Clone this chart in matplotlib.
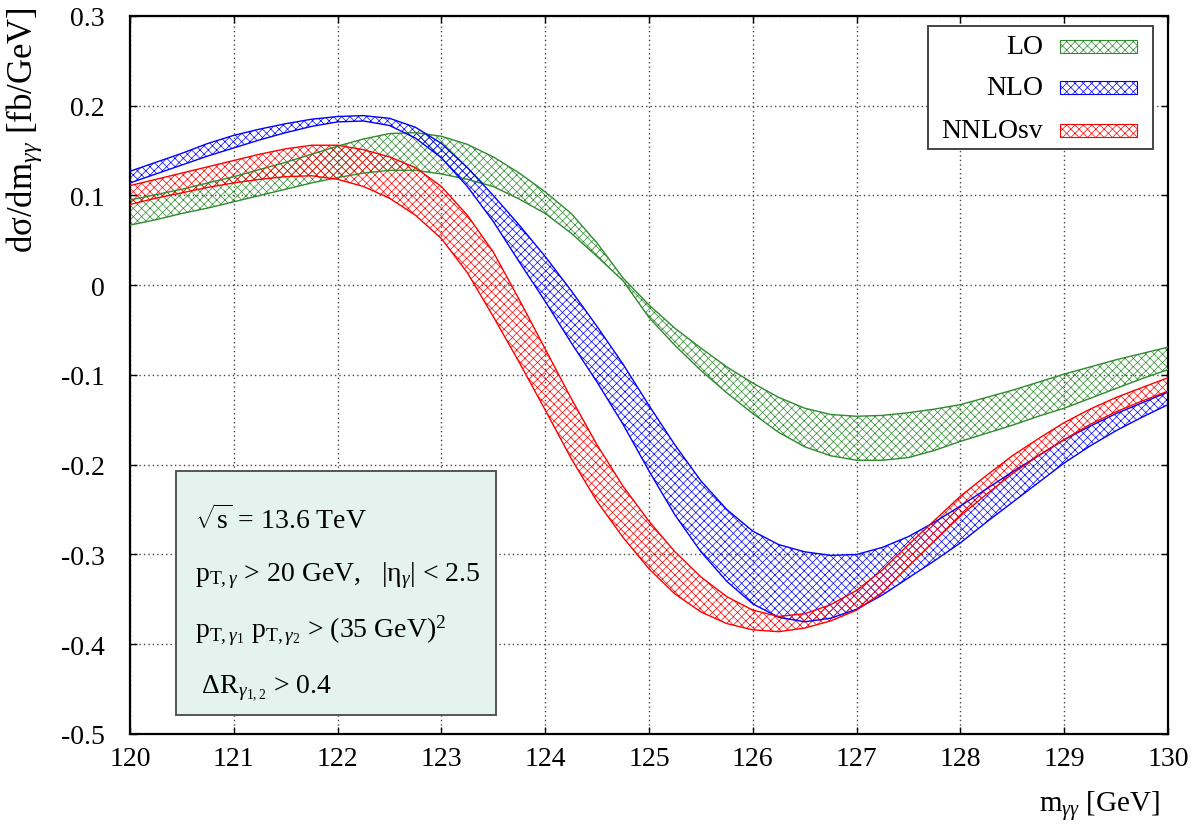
import numpy as np
import matplotlib
matplotlib.use("Agg")
import matplotlib.pyplot as plt
from matplotlib.patches import Rectangle

plt.rcParams['font.family'] = ['Liberation Serif', 'DejaVu Serif']
plt.rcParams['mathtext.fontset'] = 'custom'
plt.rcParams['mathtext.rm'] = 'Liberation Serif'
plt.rcParams['mathtext.it'] = 'Liberation Serif:italic'
plt.rcParams['mathtext.bf'] = 'Liberation Serif:bold'
plt.rcParams['hatch.linewidth'] = 0.5

# m_yy [GeV]
m_gg = [120.00, 120.25, 120.50, 120.75, 121.00, 121.25, 121.50, 121.75,
        122.00, 122.25, 122.50, 122.75, 123.00, 123.25, 123.50, 123.75,
        124.00, 124.25, 124.50, 124.75, 125.00, 125.25, 125.50, 125.75,
        126.00, 126.25, 126.50, 126.75, 127.00, 127.25, 127.50, 127.75,
        128.00, 128.25, 128.50, 128.75, 129.00, 129.25, 129.50, 129.75,
        130.00]

# LO band
lo_a = [0.095, 0.101, 0.107, 0.114, 0.121, 0.129, 0.137, 0.146,
        0.155, 0.163, 0.169, 0.170, 0.166, 0.157, 0.143, 0.125,
        0.104, 0.080, 0.047, 0.008, -0.022, -0.048, -0.070, -0.091,
        -0.109, -0.125, -0.137, -0.144, -0.146, -0.145, -0.142, -0.138,
        -0.133, -0.125, -0.117, -0.108, -0.099, -0.091, -0.083, -0.076,
        -0.069]
lo_b = [0.067, 0.073, 0.080, 0.086, 0.093, 0.100, 0.107, 0.114,
        0.120, 0.125, 0.128, 0.128, 0.124, 0.118, 0.110, 0.096,
        0.080, 0.058, 0.032, 0.005, -0.036, -0.067, -0.095, -0.120,
        -0.143, -0.164, -0.180, -0.190, -0.195, -0.195, -0.192, -0.184,
        -0.174, -0.165, -0.156, -0.146, -0.137, -0.126, -0.115, -0.104,
        -0.094]

# NLO band
nlo_a = [0.127, 0.137, 0.147, 0.158, 0.167, 0.174, 0.180, 0.185,
         0.188, 0.189, 0.186, 0.176, 0.158, 0.131, 0.100, 0.067,
         0.032, -0.006, -0.046, -0.088, -0.134, -0.178, -0.218, -0.250,
         -0.274, -0.289, -0.297, -0.301, -0.300, -0.292, -0.280, -0.264,
         -0.246, -0.227, -0.208, -0.190, -0.172, -0.157, -0.143, -0.131,
         -0.119]
nlo_b = [0.114, 0.124, 0.134, 0.144, 0.153, 0.162, 0.170, 0.177,
         0.182, 0.183, 0.178, 0.164, 0.142, 0.110, 0.071, 0.026,
         -0.018, -0.064, -0.108, -0.155, -0.207, -0.256, -0.297, -0.330,
         -0.355, -0.370, -0.375, -0.371, -0.361, -0.345, -0.326, -0.307,
         -0.287, -0.264, -0.242, -0.220, -0.198, -0.179, -0.162, -0.147,
         -0.133]

# NNLOsv band
nnlo_a = [0.111, 0.118, 0.125, 0.132, 0.139, 0.146, 0.152, 0.156,
          0.156, 0.151, 0.143, 0.131, 0.110, 0.078, 0.037, -0.016,
          -0.071, -0.126, -0.178, -0.224, -0.263, -0.297, -0.325, -0.347,
          -0.362, -0.369, -0.366, -0.356, -0.340, -0.317, -0.289, -0.262,
          -0.235, -0.212, -0.190, -0.171, -0.153, -0.138, -0.125, -0.114,
          -0.103]
nnlo_b = [0.090, 0.097, 0.103, 0.109, 0.114, 0.118, 0.121, 0.122,
          0.118, 0.110, 0.097, 0.078, 0.052, 0.014, -0.035, -0.086,
          -0.139, -0.193, -0.241, -0.281, -0.316, -0.344, -0.364, -0.377,
          -0.384, -0.386, -0.382, -0.374, -0.362, -0.342, -0.313, -0.285,
          -0.257, -0.233, -0.210, -0.190, -0.172, -0.155, -0.141, -0.129,
          -0.118]

labels = ["LO", "NLO", "NNLOsv"]
colors = ["#2e8b2e", "#0000ff", "#ff0000"]
bands = [(lo_a, lo_b), (nlo_a, nlo_b), (nnlo_a, nnlo_b)]

fig = plt.figure(figsize=(11.97, 8.29), dpi=100)
ax = fig.add_axes([0.1086, 0.1134, 0.8672, 0.8661])

for (a, b), c in zip(bands, colors):
    ax.fill_between(m_gg, a, b, facecolor="none", edgecolor=c, hatch="xxxx",
                    linewidth=0, zorder=2)
    ax.plot(m_gg, a, color=c, lw=1.0, zorder=3)
    ax.plot(m_gg, b, color=c, lw=1.0, zorder=3)

ax.set_xlim(120, 130)
ax.set_ylim(-0.5, 0.3)
ax.set_xticks(np.arange(120, 131, 1))
ax.set_yticks(np.arange(-0.5, 0.31, 0.1))
ax.set_yticklabels(["-0.5", "-0.4", "-0.3", "-0.2", "-0.1", "0", "0.1", "0.2", "0.3"])
ax.tick_params(direction="in", length=5, width=1, top=True, right=True,
               labelsize=20)
ax.tick_params(axis="y", pad=18)
ax.tick_params(axis="x", pad=9)
ax.grid(True, color="#444444", lw=1.0, linestyle=(0, (1, 2.2)))
ax.set_axisbelow(True)
for s in ax.spines.values():
    s.set_linewidth(1.6)

ax.set_xlabel(r"m$_{\gamma\gamma}$ [GeV]", fontsize=21, ha="right")
ax.xaxis.set_label_coords(0.992, -0.075)
ax.set_ylabel(r"d$\mathrm{\sigma}$/dm$_{\gamma\gamma}$ [fb/GeV]", fontsize=25)
ax.yaxis.set_label_coords(-0.083, 0.843)

# legend box (manual, gnuplot style)
ax.add_patch(Rectangle((0.7688, 0.8148), 0.2167, 0.1713, transform=ax.transAxes,
                       facecolor="white", edgecolor="#444444", lw=1.4, zorder=5))
rows = [0.958, 0.900, 0.841]
for lab, c, yy in zip(labels, colors, rows):
    ax.text(0.8796, yy, lab, transform=ax.transAxes, ha="right", va="center",
            fontsize=20, zorder=6)
    ax.add_patch(Rectangle((0.896, yy - 0.009), 0.074, 0.018,
                           transform=ax.transAxes, facecolor="none",
                           edgecolor=c, hatch="xxxx", lw=0.8, zorder=6))

# cuts box
ax.add_patch(Rectangle((0.0443, 0.0265), 0.3083, 0.3398, transform=ax.transAxes,
                       facecolor="#e5f3ee", edgecolor="#555555", lw=1.4, zorder=5))
cuts = [r"$\sqrt{\mathrm{s}}$ = 13.6 TeV",
        r"p$_{\mathrm{T},\gamma}$ > 20 GeV,   |$\mathrm{\eta}_{\gamma}$| < 2.5",
        r"p$_{\mathrm{T},\gamma_1}$ p$_{\mathrm{T},\gamma_2}$ > (35 GeV)$^2$",
        r" $\Delta$R$_{\gamma_{1,2}}$ > 0.4"]
cut_y = [0.300, 0.222, 0.145, 0.066]
for t, yy in zip(cuts, cut_y):
    ax.text(0.0626, yy, t, transform=ax.transAxes, ha="left", va="center",
            fontsize=20, zorder=6)

fig.savefig("out.png", dpi=100)
